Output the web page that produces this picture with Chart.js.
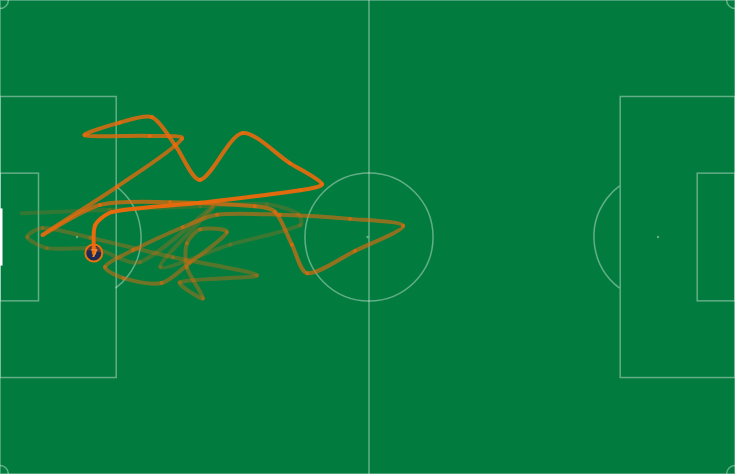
<!DOCTYPE html>
<html>
<head>
<meta charset="utf-8">
<script src="https://cdn.jsdelivr.net/npm/chart.js@4/dist/chart.umd.min.js"></script>
<style>
  html,body{margin:0;padding:0;background:#027c3e;}
  #wrap{position:relative;width:735px;height:474px;}
</style>
</head>
<body>
<div id="wrap"><canvas id="c"></canvas></div>
<script>
// Pitch size in metres
const PITCH_LENGTH = 105;
const PITCH_WIDTH = 68;

// Player trail (metres), oldest first, newest last
const trailX = [3.1, 15.7, 28.6, 38.1, 42.6, 42.9, 32.9, 22.9, 30.4, 20.0,
  13.6, 6.7, 3.9, 6.1, 12.9, 24.7, 36.7, 25.7, 29.0, 26.7,
  26.7, 28.6, 32.4, 27.1, 23.1, 17.6, 15.0, 19.0, 26.1, 31.0,
  40.0, 50.0, 57.6, 50.7, 43.9, 41.7, 39.3, 36.4, 24.3, 14.3,
  6.1, 16.7, 26.0, 21.4, 12.1, 17.1, 21.7, 25.0, 28.6, 34.6,
  41.4, 46.0, 42.9, 28.6, 16.1, 13.6, 13.4];
const trailY = [30.6, 30.1, 29.6, 29.3, 30.7, 32.3, 35.1, 38.3, 29.7, 37.6,
  35.7, 35.6, 34.0, 32.7, 34.1, 36.9, 39.5, 40.5, 42.8, 38.4,
  34.9, 32.9, 33.3, 37.7, 40.6, 39.9, 38.3, 35.9, 32.6, 30.8,
  30.8, 31.4, 32.4, 36.0, 39.2, 35.1, 30.4, 29.6, 29.0, 29.4,
  33.7, 26.8, 19.9, 19.5, 19.4, 17.6, 16.8, 20.8, 25.8, 19.1,
  23.4, 26.4, 27.3, 29.1, 30.4, 32.3, 36.3];
const playerNumber = ['7'];

const trail = trailX.map((x, i) => ({x: x, y: trailY[i]}));
const last = trail.length - 1;
const player = [{x: trailX[last], y: trailY[last]}];

const nSeg = trail.length - 1;
function segAlpha(i) {
  const t = i / (nSeg - 1);
  return 0.2 + 0.8 * Math.pow(t, 1.25);
}

const LINE = 'rgba(255,255,255,0.38)';

const pitchPlugin = {
  id: 'pitch',
  beforeDraw(chart) {
    const ctx = chart.ctx;
    ctx.save();
    ctx.fillStyle = '#027c3e';
    ctx.fillRect(0, 0, chart.width, chart.height);
    ctx.restore();
  },
  beforeDatasetsDraw(chart) {
    const ctx = chart.ctx;
    const sx = chart.scales.x, sy = chart.scales.y;
    const X = v => sx.getPixelForValue(v);
    const Y = v => sy.getPixelForValue(v);
    const mpx = X(1) - X(0);
    ctx.save();
    ctx.strokeStyle = LINE;
    ctx.lineWidth = 1.5;
    const rect = (x0, y0, x1, y1) => {
      ctx.strokeRect(X(x0), Y(y0), X(x1) - X(x0), Y(y1) - Y(y0));
    };
    rect(0, 0, PITCH_LENGTH, PITCH_WIDTH);
    ctx.beginPath(); ctx.moveTo(X(PITCH_LENGTH / 2) + 1.5, Y(0)); ctx.lineTo(X(PITCH_LENGTH / 2) + 1.5, Y(PITCH_WIDTH)); ctx.stroke();
    const cy = PITCH_WIDTH / 2;
    ctx.beginPath(); ctx.arc(X(PITCH_LENGTH / 2) + 1.5, Y(cy), 9.15 * mpx, 0, Math.PI * 2); ctx.stroke();
    rect(0, cy - 20.16, 16.6, cy + 20.16);
    rect(PITCH_LENGTH - 16.4, cy - 20.16, PITCH_LENGTH, cy + 20.16);
    rect(0, cy - 9.16, 5.5, cy + 9.16);
    rect(PITCH_LENGTH - 5.4, cy - 9.16, PITCH_LENGTH, cy + 9.16);
    const a = Math.acos(5.5 / 9.15);
    ctx.beginPath(); ctx.arc(X(11), Y(cy), 9.15 * mpx, -a, a); ctx.stroke();
    ctx.beginPath(); ctx.arc(X(PITCH_LENGTH - 11), Y(cy), 9.15 * mpx, Math.PI - a, Math.PI + a); ctx.stroke();
    const r = 1.2 * mpx;
    ctx.beginPath(); ctx.arc(X(0), Y(0), r, 0, Math.PI / 2); ctx.stroke();
    ctx.beginPath(); ctx.arc(X(PITCH_LENGTH), Y(0), r, Math.PI / 2, Math.PI); ctx.stroke();
    ctx.beginPath(); ctx.arc(X(0), Y(PITCH_WIDTH), r, -Math.PI / 2, 0); ctx.stroke();
    ctx.beginPath(); ctx.arc(X(PITCH_LENGTH), Y(PITCH_WIDTH), r, Math.PI, Math.PI * 1.5); ctx.stroke();
    ctx.fillStyle = LINE;
    [[PITCH_LENGTH / 2, cy], [11, cy], [PITCH_LENGTH - 11, cy]].forEach(p => {
      ctx.beginPath(); ctx.arc(X(p[0]), Y(p[1]), 1.2, 0, Math.PI * 2); ctx.fill();
    });
    ctx.fillStyle = '#ffffff';
    ctx.fillRect(X(0) - 1, Y(cy - 4.1), 3.5, Y(cy + 4.1) - Y(cy - 4.1));
    ctx.restore();
  },
  afterDatasetsDraw(chart) {
    const meta = chart.getDatasetMeta(1);
    const pt = meta.data[0];
    if (!pt) return;
    const ctx = chart.ctx;
    ctx.save();
    ctx.fillStyle = '#f08a2c';
    ctx.font = 'bold 11px "DejaVu Sans", sans-serif';
    ctx.textAlign = 'center';
    ctx.textBaseline = 'middle';
    ctx.fillText(playerNumber[0], pt.x + 0.5, pt.y + 1);
    ctx.restore();
  }
};

new Chart(document.getElementById('c'), {
  type: 'line',
  data: {
    datasets: [
      {
        label: 'trail',
        data: trail,
        parsing: false,
        borderWidth: 4,
        tension: 0.28,
        pointRadius: 0,
        borderCapStyle: 'round',
        borderJoinStyle: 'round',
        borderColor: 'rgba(236,106,12,1)',
        fill: false,
        segment: {
          borderColor: ctx => 'rgba(236,106,12,' + segAlpha(ctx.p0DataIndex).toFixed(3) + ')'
        }
      },
      {
        label: 'player',
        data: player,
        parsing: false,
        showLine: false,
        pointRadius: 8.5,
        pointBorderWidth: 2,
        pointBackgroundColor: '#1e2a56',
        pointBorderColor: '#e8720c'
      }
    ]
  },
  options: {
    responsive: true,
    maintainAspectRatio: false,
    animation: false,
    events: [],
    layout: {padding: 0, autoPadding: false},
    plugins: {legend: {display: false}, tooltip: {enabled: false}, title: {display: false}},
    scales: {
      x: {type: 'linear', min: 0, max: PITCH_LENGTH, display: false},
      y: {type: 'linear', min: 0, max: PITCH_WIDTH, reverse: true, display: false}
    }
  },
  plugins: [pitchPlugin]
});
</script>
</body>
</html>
